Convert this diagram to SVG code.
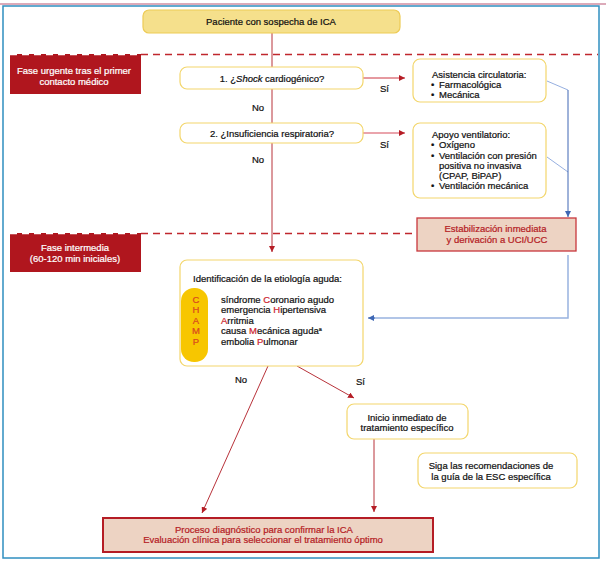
<svg xmlns="http://www.w3.org/2000/svg" width="606" height="566" viewBox="0 0 606 566">
<defs>
<style>
text{font-family:"Liberation Sans",Arial,sans-serif;font-size:9.5px;fill:#111111;stroke:#111111;stroke-width:0.22px}
.c{text-anchor:middle}
.w{fill:#ffffff;stroke:#ffffff}
.r{fill:#b51d25;stroke:#b51d25}
.cap{fill:#cc1f2f;stroke:#cc1f2f}
.champ{fill:#d9481f;stroke:#d9481f;text-anchor:middle}
.box{fill:#ffffff;stroke:#f3d66c;stroke-width:1.2}
.pbox{fill:#edd3c3}
.lab{fill:#b0161e}
.ln{fill:none;stroke:#b8323a;stroke-width:1}
.bl{fill:none;stroke:#3e67b4;stroke-width:1}
.bl2{fill:none;stroke:#98b2e0;stroke-width:1.5}
.bl3{fill:none;stroke:#7b9bd8;stroke-width:0.8}
.dash{stroke-width:1.5;stroke-dasharray:7 5}
</style>
<marker id="ar" viewBox="0 0 6 6" refX="6" refY="3" markerWidth="6" markerHeight="6" markerUnits="userSpaceOnUse" orient="auto">
<path d="M0,0 L6,3 L0,6 z" fill="#b51d25"/>
</marker>
<marker id="ab" viewBox="0 0 6 6" refX="6" refY="3" markerWidth="6" markerHeight="6" markerUnits="userSpaceOnUse" orient="auto">
<path d="M0,0 L6,3 L0,6 z" fill="#3e67b4"/>
</marker>
</defs>
<rect width="606" height="566" fill="#ffffff"/>
<line x1="0" y1="4" x2="606" y2="4" stroke="#dcaab9" stroke-width="2"/>
<rect x="3" y="6" width="596" height="552" fill="none" stroke="#2f8fc0" stroke-width="1.5"/>

<g id="phase-labels">
<rect class="lab" x="10" y="54" width="131" height="40"/>
<text class="c w" x="74" y="74">Fase urgente tras el primer</text>
<text class="c w" x="74" y="84.5">contacto médico</text>
<rect class="lab" x="10" y="233" width="131" height="39"/>
<text class="c w" x="75" y="251">Fase intermedia</text>
<text class="c w" x="75" y="262">(60-120 min iniciales)</text>
<line class="dash" x1="10" y1="54.5" x2="141" y2="54.5" stroke="#ffffff"/>
<line class="dash" x1="141" y1="54.5" x2="598" y2="54.5" stroke="#c0272d"/>
<line class="dash" x1="10" y1="233.5" x2="141" y2="233.5" stroke="#ffffff"/>
<line class="dash" x1="141" y1="233.5" x2="417" y2="233.5" stroke="#c0272d"/>
</g>

<g id="connectors">
<path class="ln" d="M272,32 V252" marker-end="url(#ar)"/>
<path d="M363,78 H405" fill="none" stroke="#cc3440" stroke-width="1" marker-end="url(#ar)"/>
<path d="M363,133 H405" fill="none" stroke="#eaa4ac" stroke-width="2" marker-end="url(#ar)"/>
<path class="bl3" d="M547,81 L568,90"/>
<path class="bl3" d="M547,157 L568,172"/>
<path class="bl" d="M568,90 V217" marker-end="url(#ab)"/>
<path class="bl2" d="M568,255 V318 H372"/>
<path class="bl" d="M375,318 H368" marker-end="url(#ab)"/>
<path class="ln" d="M268,366 L202,513" marker-end="url(#ar)"/>
<path class="ln" d="M297,366 L354,398" marker-end="url(#ar)"/>
<path class="ln" d="M374,439 V512" marker-end="url(#ar)"/>
<text x="252" y="110.5">No</text>
<text x="252" y="162.5">No</text>
<text x="380" y="91.5">Sí</text>
<text x="380" y="147.5">Sí</text>
<text x="235" y="382.5">No</text>
<text x="356" y="384.5">Sí</text>
</g>

<g id="n-paciente">
<rect x="143" y="10" width="257" height="23" rx="6" fill="#f5e08c" stroke="#edcb55" stroke-width="1.2"/>
<text class="c" x="271" y="24.5">Paciente con sospecha de ICA</text>
</g>

<g id="n-shock">
<rect class="box" x="180" y="67" width="183" height="22" rx="7"/>
<text class="c" x="272" y="81.5">1. ¿<tspan font-style="italic">Shock</tspan> cardiogénico?</text>
</g>

<g id="n-insuf">
<rect class="box" x="180" y="123" width="183" height="20" rx="7"/>
<text class="c" x="272" y="136.5">2. ¿Insuficiencia respiratoria?</text>
</g>

<g id="n-asistencia">
<rect class="box" x="413" y="59" width="133" height="43" rx="7"/>
<text x="432" y="78">Asistencia circulatoria:</text>
<text x="431" y="88">•</text><text x="439" y="88">Farmacológica</text>
<text x="431" y="98">•</text><text x="439" y="98">Mecánica</text>
</g>

<g id="n-apoyo">
<rect class="box" x="413" y="123" width="133" height="75" rx="7"/>
<text x="432" y="138">Apoyo ventilatorio:</text>
<text x="431" y="148">•</text><text x="439" y="148">Oxígeno</text>
<text x="431" y="158.5">•</text><text x="439" y="158.5">Ventilación con presión</text>
<text x="439" y="168.5">positiva no invasiva</text>
<text x="439" y="178.5">(CPAP, BiPAP)</text>
<text x="431" y="189">•</text><text x="439" y="189">Ventilación mecánica</text>
</g>

<g id="n-estab">
<rect class="pbox" x="417" y="218" width="159" height="33" stroke="#c8373d" stroke-width="1.3"/>
<text class="c r" x="495.5" y="231.5">Estabilización inmediata</text>
<text class="c r" x="497" y="242.5">y derivación a UCI/UCC</text>
</g>

<g id="n-ident">
<rect class="box" x="180" y="260" width="183" height="106" rx="7"/>
<text x="193" y="281.5">Identificación de la etiología aguda:</text>
<rect x="181" y="288" width="27" height="74" rx="13" fill="#f7c600"/>
<text class="champ" x="196" y="302.5">C</text>
<text class="champ" x="196" y="313">H</text>
<text class="champ" x="196" y="323.5">A</text>
<text class="champ" x="196" y="334">M</text>
<text class="champ" x="196" y="344.5">P</text>
<text x="221" y="302.5">síndrome <tspan class="cap">C</tspan>oronario agudo</text>
<text x="221" y="313">emergencia <tspan class="cap">H</tspan>ipertensiva</text>
<text x="221" y="323.5"><tspan class="cap">A</tspan>rritmia</text>
<text x="221" y="334">causa <tspan class="cap">M</tspan>ecánica aguda<tspan font-size="5.5px" dy="-3.5">a</tspan></text>
<text x="221" y="344.5">embolia <tspan class="cap">P</tspan>ulmonar</text>
</g>

<g id="n-inicio">
<rect class="box" x="347" y="404" width="121" height="35" rx="7"/>
<text class="c" x="407" y="420.5">Inicio inmediato de</text>
<text class="c" x="407" y="431">tratamiento específico</text>
</g>

<g id="n-siga">
<rect class="box" x="418" y="453" width="159" height="35" rx="7"/>
<text class="c" x="491" y="468.5">Siga las recomendaciones de</text>
<text class="c" x="491" y="479.5">la guía de la ESC específica</text>
</g>

<g id="n-proceso">
<rect class="pbox" x="103" y="518" width="330" height="34" stroke="#b51d25" stroke-width="2"/>
<text class="c r" x="264" y="532.5">Proceso diagnóstico para confirmar la ICA</text>
<text class="c r" x="263" y="543">Evaluación clínica para seleccionar el tratamiento óptimo</text>
</g>
</svg>
